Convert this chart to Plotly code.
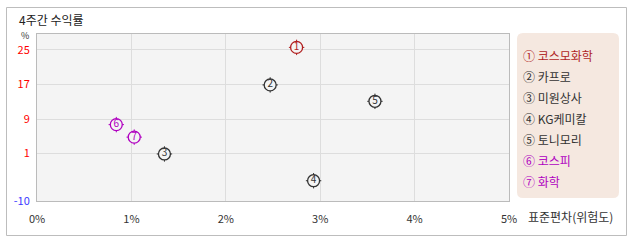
import plotly.graph_objects as go

# ---- data ----
names = ["코스모화학", "카프로", "미원상사", "KG케미칼", "토니모리", "코스피", "화학"]
circled = ["①", "②", "③", "④", "⑤", "⑥", "⑦"]
digits = ["1", "2", "3", "4", "5", "6", "7"]
std_dev = [2.75, 2.47, 1.35, 2.93, 3.58, 0.84, 1.03]   # 표준편차 (%)
returns = [25.6, 16.9, 0.9, -5.3, 13.1, 7.7, 4.8]      # 4주간 수익률 (%)
colors = ["#b01e1e", "#333333", "#333333", "#333333", "#333333", "#b000c0", "#b000c0"]
y_ticks = [-10, 1, 9, 17, 25]
x_ticks = [0, 1, 2, 3, 4, 5]

FONT = "Noto Sans CJK KR"
W, H = 638, 242
L, R, T, B = 37, 509, 34, 201  # plot area in pixels
PW, PH = R - L, B - T

def px(x):
    return (x - L) / PW

def py(y):
    return (B - y) / PH

fig = go.Figure()

fig.add_trace(go.Scatter(
    x=std_dev, y=returns, mode="markers", hoverinfo="skip", showlegend=False,
    marker=dict(symbol="cross-thin-open", size=11, color=colors,
                line=dict(color=colors, width=1)),
))
fig.add_trace(go.Scatter(
    x=std_dev, y=returns, mode="markers+text", text=digits, hoverinfo="skip",
    showlegend=False, textposition="middle center",
    textfont=dict(family=FONT, size=10, color=colors),
    marker=dict(symbol="circle", size=12, color="#f4f4f4",
                line=dict(color=colors, width=1.3)),
))

shapes = []
# outer frame
shapes.append(dict(type="rect", xref="paper", yref="paper",
                   x0=px(6.5), x1=px(626.5), y0=py(235.5), y1=py(7.5),
                   line=dict(color="#bdbdbd", width=1), fillcolor="rgba(0,0,0,0)", layer="below"))
# legend box with rounded corners
lx0, lx1, ly0, ly1, r = 517, 619, 33, 198, 6
path = (f"M {px(lx0 + r)} {py(ly0)} L {px(lx1 - r)} {py(ly0)} "
        f"Q {px(lx1)} {py(ly0)} {px(lx1)} {py(ly0 + r)} "
        f"L {px(lx1)} {py(ly1 - r)} Q {px(lx1)} {py(ly1)} {px(lx1 - r)} {py(ly1)} "
        f"L {px(lx0 + r)} {py(ly1)} Q {px(lx0)} {py(ly1)} {px(lx0)} {py(ly1 - r)} "
        f"L {px(lx0)} {py(ly0 + r)} Q {px(lx0)} {py(ly0)} {px(lx0 + r)} {py(ly0)} Z")
shapes.append(dict(type="path", xref="paper", yref="paper", path=path,
                   fillcolor="#f5e8e0", line=dict(width=0)))

annotations = []
annotations.append(dict(xref="paper", yref="paper", x=px(17), y=py(19), text="4주간 수익률",
                        showarrow=False, xanchor="left", yanchor="middle",
                        font=dict(family=FONT, size=12, color="#222222")))
annotations.append(dict(xref="paper", yref="paper", x=px(25), y=py(35.5), text="%",
                        showarrow=False, xanchor="center", yanchor="middle",
                        font=dict(family=FONT, size=9, color="#333333")))
annotations.append(dict(xref="paper", yref="paper", x=px(526), y=py(216), text="표준편차(위험도)",
                        showarrow=False, xanchor="left", yanchor="middle",
                        font=dict(family=FONT, size=12, color="#333333")))
for i, (c, n, col) in enumerate(zip(circled, names, colors)):
    annotations.append(dict(xref="paper", yref="paper", x=px(521), y=py(55 + 21 * i),
                            text=f"{c} {n}", showarrow=False, xanchor="left", yanchor="middle",
                            font=dict(family=FONT, size=12, color=col)))

ytext = [f'<span style="color:#3a3aff">{v}</span>' if v < 0 else f'<span style="color:#ff0000">{v}</span>'
         for v in y_ticks]

fig.update_layout(
    width=W, height=H,
    margin=dict(l=L, r=W - R, t=T, b=H - B, pad=0),
    paper_bgcolor="white", plot_bgcolor="#f4f4f4",
    font=dict(family=FONT, size=11, color="#333333"),
    shapes=shapes, annotations=annotations,
    xaxis=dict(range=[0, 5], tickvals=x_ticks, ticktext=[f"{v}%" for v in x_ticks],
               showgrid=True, gridcolor="#dddddd", gridwidth=1, zeroline=False,
               showline=True, linecolor="#bbbbbb", linewidth=1, mirror=True,
               ticks="", ticklabelstandoff=8, tickfont=dict(family=FONT, size=11, color="#333333")),
    yaxis=dict(range=[-10, 28.7], tickvals=y_ticks, ticktext=ytext,
               showgrid=True, gridcolor="#dddddd", gridwidth=1, zeroline=False,
               showline=True, linecolor="#bbbbbb", linewidth=1, mirror=True,
               ticks="", ticklabelstandoff=4, tickfont=dict(family=FONT, size=11)),
)

fig.write_html("out.html")
